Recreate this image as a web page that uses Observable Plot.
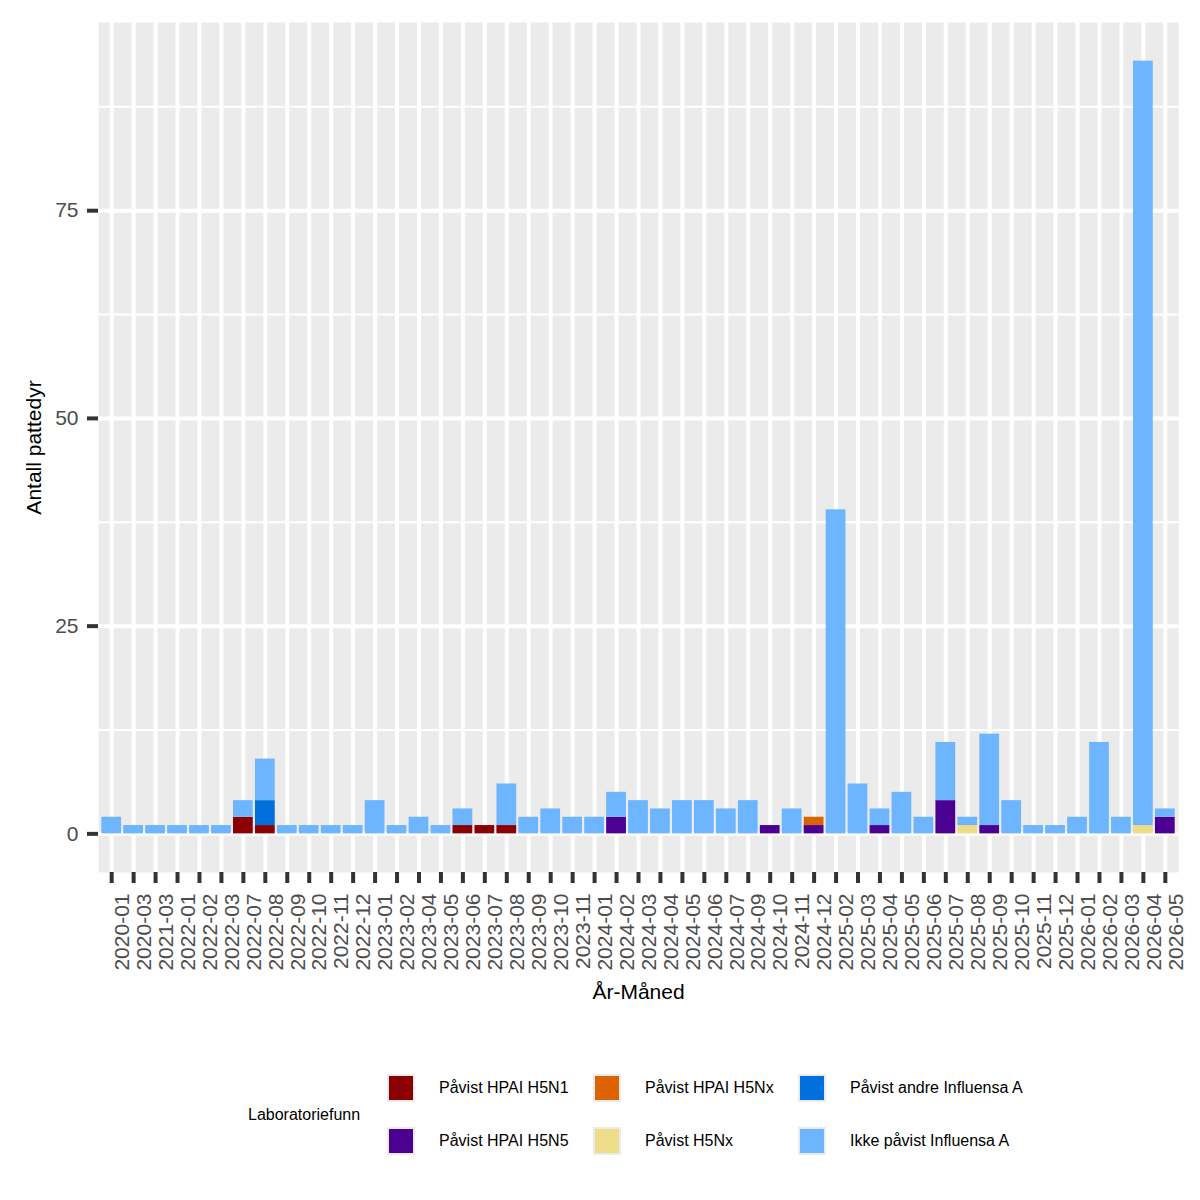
<!DOCTYPE html>
<html>
<head>
<meta charset="utf-8">
<script src="https://cdn.jsdelivr.net/npm/d3@7"></script>
<script src="https://cdn.jsdelivr.net/npm/@observablehq/plot@0.6"></script>
<style>
  body { margin: 0; background: #ffffff; font-family: "Liberation Sans", Arial, sans-serif; }
  #legend { position: relative; width: 1200px; height: 160px; }
  #legend .title { position: absolute; left: 248px; top: 65px; font-size: 16px; line-height: 20px; color: #000; }
  #legend .key { position: absolute; width: 28px; height: 28px; background: #EBEBEB; box-sizing: border-box; padding: 2px; }
  #legend .key div { width: 100%; height: 100%; }
  #legend .label { position: absolute; font-size: 16px; line-height: 28px; color: #000; white-space: nowrap; }
</style>
</head>
<body>
<div id="chart"></div>
<div id="legend"></div>
<script>
// Year-month periods on the x axis
const months = [
  "2020-01","2020-03","2021-03","2022-01","2022-02","2022-03","2022-07","2022-08",
  "2022-09","2022-10","2022-11","2022-12","2023-01","2023-02","2023-04","2023-05",
  "2023-06","2023-07","2023-08","2023-09","2023-10","2023-11","2024-01","2024-02",
  "2024-03","2024-04","2024-05","2024-06","2024-07","2024-09","2024-10","2024-11",
  "2024-12","2025-02","2025-03","2025-04","2025-05","2025-06","2025-07","2025-08",
  "2025-09","2025-10","2025-11","2025-12","2026-01","2026-02","2026-03","2026-04",
  "2026-05"
];

// Number of mammals per laboratory finding, one value per month
const h5n1 = [
  0,0,0,0,0,0,2,1, 0,0,0,0,0,0,0,0, 1,1,1,0,0,0,0,0,
  0,0,0,0,0,0,0,0, 0,0,0,0,0,0,0,0, 0,0,0,0,0,0,0,0, 0
];
const h5n5 = [
  0,0,0,0,0,0,0,0, 0,0,0,0,0,0,0,0, 0,0,0,0,0,0,0,2,
  0,0,0,0,0,0,1,0, 1,0,0,1,0,0,4,0, 1,0,0,0,0,0,0,0, 2
];
const hpaiH5nx = [
  0,0,0,0,0,0,0,0, 0,0,0,0,0,0,0,0, 0,0,0,0,0,0,0,0,
  0,0,0,0,0,0,0,0, 1,0,0,0,0,0,0,0, 0,0,0,0,0,0,0,0, 0
];
const h5nx = [
  0,0,0,0,0,0,0,0, 0,0,0,0,0,0,0,0, 0,0,0,0,0,0,0,0,
  0,0,0,0,0,0,0,0, 0,0,0,0,0,0,0,1, 0,0,0,0,0,0,0,1, 0
];
const andreInfluensaA = [
  0,0,0,0,0,0,0,3, 0,0,0,0,0,0,0,0, 0,0,0,0,0,0,0,0,
  0,0,0,0,0,0,0,0, 0,0,0,0,0,0,0,0, 0,0,0,0,0,0,0,0, 0
];
const ikkePavist = [
  2,1,1,1,1,1,2,5, 1,1,1,1,4,1,2,1, 2,0,5,2,3,2,2,3,
  4,3,4,4,3,4,0,3, 0,39,6,2,5,2,7,1, 11,4,1,1,2,11,2,92, 1
];

// Finding categories, stacked bottom to top, and their fills
const categories = [
  "Påvist HPAI H5N1",
  "Påvist HPAI H5N5",
  "Påvist HPAI H5Nx",
  "Påvist H5Nx",
  "Påvist andre Influensa A",
  "Ikke påvist Influensa A"
];
const colors = ["#8B0000", "#4B0092", "#DB6400", "#EEDD88", "#006EDB", "#6DB6FF"];
const series = [h5n1, h5n5, hpaiH5nx, h5nx, andreInfluensaA, ikkePavist];

const legendTitle = "Laboratoriefunn";
const xTitle = "År-Måned";
const yTitle = "Antall pattedyr";
const yTicks = [0, 25, 50, 75];
const yMinor = [12.5, 37.5, 62.5, 87.5];

// Long table for the stacked bars
const rows = [];
months.forEach((m, i) => {
  series.forEach((s, j) => {
    if (s[i] > 0) rows.push({month: m, kategori: categories[j], n: s[i]});
  });
});

const chart = Plot.plot({
  width: 1200,
  height: 1040,
  marginLeft: 98,
  marginRight: 22,
  marginTop: 22,
  marginBottom: 168,
  style: {fontFamily: "Liberation Sans, Arial, sans-serif", fontSize: "21px", background: "#ffffff", overflow: "visible"},
  x: {type: "band", domain: months, paddingInner: 0.1, paddingOuter: 0.15, axis: null},
  y: {domain: [-4.65, 97.65], axis: null},
  color: {domain: categories, range: colors},
  marks: [
    Plot.frame({fill: "#EBEBEB", stroke: "none"}),
    Plot.gridY(yMinor, {stroke: "#ffffff", strokeOpacity: 1, strokeWidth: 2}),
    Plot.gridY(yTicks, {stroke: "#ffffff", strokeOpacity: 1, strokeWidth: 4}),
    Plot.gridX(months, {stroke: "#ffffff", strokeOpacity: 1, strokeWidth: 4}),
    Plot.barY(rows, {x: "month", y: "n", fill: "kategori", order: categories, inset: 0}),
    Plot.axisY(yTicks, {
      tickSize: 11, tickPadding: 9, strokeWidth: 4, stroke: "#333333",
      fill: "#4D4D4D", fontSize: 21, label: null
    }),
    Plot.axisX(months, {
      tickSize: 11, strokeWidth: 4, stroke: "#333333", tickFormat: () => "", label: null
    }),
    // Rotated month labels, reading bottom to top, hanging below the ticks
    Plot.text(months, {
      x: d => d, frameAnchor: "bottom", rotate: -90, textAnchor: "end", lineAnchor: "middle",
      dy: 21, dx: 10.5, fontSize: 21, fill: "#4D4D4D"
    }),
    Plot.text([yTitle], {
      frameAnchor: "left", textAnchor: "middle", lineAnchor: "middle",
      dx: -64, rotate: -90, fontSize: 21, fill: "#000000"
    }),
    Plot.text([xTitle], {
      frameAnchor: "bottom", textAnchor: "middle", lineAnchor: "middle",
      dy: 120, fontSize: 21, fill: "#000000"
    })
  ]
});
document.getElementById("chart").append(chart);

// Legend below the plot: two rows, filled column by column
const legend = document.getElementById("legend");
const title = document.createElement("div");
title.className = "title";
title.textContent = legendTitle;
legend.append(title);
const colLeft = [387, 593, 798];
const rowTop = [34, 87];
categories.forEach((c, i) => {
  const col = Math.floor(i / 2), row = i % 2;
  const key = document.createElement("div");
  key.className = "key";
  key.style.left = colLeft[col] + "px";
  key.style.top = rowTop[row] + "px";
  const sw = document.createElement("div");
  sw.style.background = colors[i];
  key.append(sw);
  const lab = document.createElement("div");
  lab.className = "label";
  lab.style.left = (colLeft[col] + 52) + "px";
  lab.style.top = rowTop[row] + "px";
  lab.textContent = c;
  legend.append(key, lab);
});
</script>
</body>
</html>
